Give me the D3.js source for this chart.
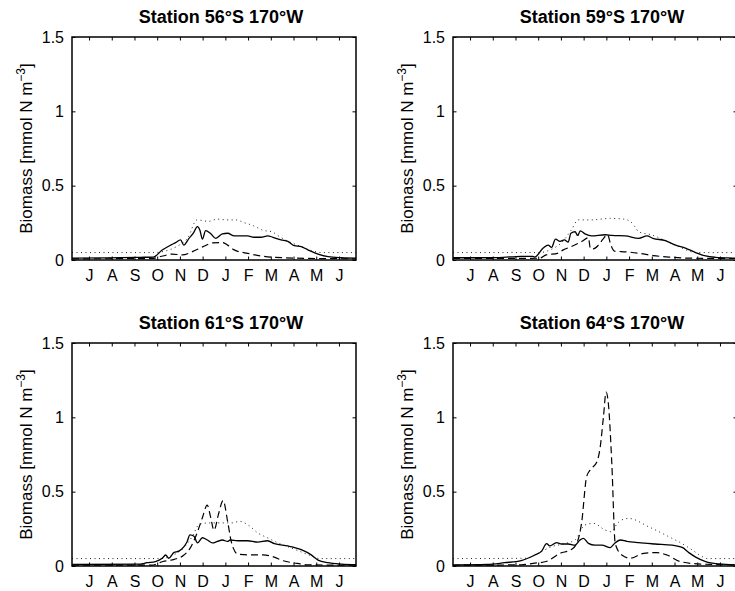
<!DOCTYPE html>
<html>
<head>
<meta charset="utf-8">
<script src="https://cdn.jsdelivr.net/npm/d3@7"></script>
<style>
body { margin: 0; background: #fff; }
svg { display: block; font-family: 'Liberation Sans', Arial, Helvetica, sans-serif; }
</style>
</head>
<body>
<div id="chart"></div>
<script>
// x values are months counted from 1 July, y values are biomass
const stations = ['56', '59', '61', '64'];
const monthLabels = ['J', 'A', 'S', 'O', 'N', 'D', 'J', 'F', 'M', 'A', 'M', 'J'];
const monthTicks = [0.75, 1.75, 2.75, 3.75, 4.75, 5.75, 6.75, 7.75, 8.75, 9.75, 10.75, 11.75];
const yTicks = [0, 0.5, 1, 1.5];

// Station 56S
const solid56 = [[0,0.013],[1.5,0.014],[3.0,0.018],[3.58,0.02],[3.97,0.067],[4.34,0.10],[4.56,0.117],[4.78,0.135],[4.92,0.10],[5.15,0.146],[5.34,0.18],[5.52,0.225],[5.63,0.2],[5.74,0.14],[5.88,0.198],[6.11,0.176],[6.33,0.146],[6.62,0.176],[6.85,0.18],[7.14,0.162],[7.73,0.162],[8.01,0.153],[8.32,0.153],[8.61,0.162],[8.84,0.153],[9.2,0.135],[9.5,0.125],[9.78,0.097],[10.09,0.09],[10.38,0.068],[10.83,0.04],[11.27,0.022],[11.86,0.015],[12.5,0.012]];
const dashed56 = [[0,0.008],[3.5,0.01],[4.0,0.027],[4.4,0.04],[4.85,0.034],[5.3,0.056],[5.75,0.088],[6.2,0.115],[6.62,0.117],[6.85,0.1],[7.14,0.068],[7.73,0.045],[8.32,0.027],[8.9,0.018],[10.4,0.011],[12.5,0.008]];
const dotted56 = [[0,0.05],[3.6,0.05],[4.1,0.06],[4.6,0.09],[5.1,0.15],[5.5,0.27],[6.0,0.26],[6.4,0.275],[6.8,0.27],[7.2,0.27],[7.6,0.25],[8.0,0.23],[8.4,0.2],[8.8,0.19],[9.1,0.16],[9.6,0.12],[10.1,0.09],[10.6,0.06],[11.0,0.05],[12.5,0.05]];

// Station 59S
const solid59 = [[0,0.015],[2.0,0.016],[3.0,0.025],[3.5,0.025],[3.6,0.02],[3.97,0.08],[4.19,0.1],[4.34,0.085],[4.51,0.14],[4.71,0.125],[4.9,0.135],[5.07,0.12],[5.19,0.18],[5.37,0.19],[5.49,0.165],[5.6,0.196],[5.81,0.176],[6.1,0.162],[6.7,0.17],[7.0,0.165],[7.58,0.162],[8.17,0.146],[8.54,0.162],[8.8,0.146],[9.35,0.13],[9.8,0.1],[10.23,0.08],[10.68,0.05],[11.12,0.027],[11.56,0.018],[12.3,0.013],[12.5,0.012]];
const dashed59 = [[0,0.01],[3.8,0.012],[4.1,0.034],[4.6,0.045],[4.85,0.068],[5.2,0.09],[5.66,0.124],[5.96,0.15],[6.05,0.075],[6.18,0.075],[6.4,0.1],[6.6,0.14],[6.8,0.17],[6.95,0.1],[7.1,0.06],[7.6,0.055],[8.2,0.045],[8.8,0.03],[9.5,0.02],[10.5,0.012],[12.5,0.01]];
const dotted59 = [[0,0.05],[3.8,0.05],[4.3,0.07],[4.8,0.12],[5.2,0.2],[5.52,0.27],[6.18,0.27],[6.5,0.275],[6.92,0.28],[7.51,0.275],[7.8,0.26],[8.0,0.225],[8.17,0.19],[8.76,0.168],[9.35,0.13],[9.94,0.09],[10.68,0.05],[12.5,0.05]];

// Station 61S
const solid61 = [[0,0.01],[3.0,0.012],[3.3,0.022],[3.67,0.03],[3.97,0.052],[4.12,0.074],[4.26,0.052],[4.48,0.09],[4.7,0.1],[4.93,0.13],[5.07,0.165],[5.19,0.21],[5.37,0.2],[5.52,0.155],[5.74,0.19],[5.96,0.175],[6.18,0.155],[6.4,0.165],[6.62,0.175],[6.85,0.165],[6.96,0.175],[7.29,0.17],[7.73,0.17],[8.17,0.16],[8.61,0.17],[8.91,0.15],[9.5,0.135],[10.09,0.11],[10.53,0.075],[10.83,0.04],[11.27,0.022],[11.86,0.013],[12.5,0.009]];
const dashed61 = [[0,0.005],[3.5,0.006],[4.0,0.03],[4.5,0.045],[4.9,0.07],[5.2,0.12],[5.5,0.22],[5.75,0.33],[5.95,0.41],[6.1,0.33],[6.25,0.24],[6.45,0.35],[6.65,0.44],[6.85,0.3],[7.0,0.17],[7.1,0.12],[7.3,0.08],[7.8,0.075],[8.4,0.075],[8.9,0.06],[9.3,0.035],[9.8,0.02],[10.4,0.008],[12.5,0.005]];
const dotted61 = [[0,0.05],[3.9,0.05],[4.4,0.07],[4.9,0.12],[5.3,0.2],[5.6,0.28],[6.0,0.29],[6.5,0.29],[7.0,0.29],[7.4,0.3],[7.8,0.27],[8.2,0.22],[8.6,0.19],[9.0,0.16],[9.5,0.13],[10.0,0.1],[10.5,0.07],[10.9,0.05],[12.5,0.05]];

// Station 64S
const solid64 = [[0,0.007],[1.5,0.01],[2.27,0.022],[3.0,0.036],[3.6,0.074],[3.9,0.1],[4.12,0.15],[4.26,0.135],[4.56,0.157],[4.78,0.148],[5.07,0.148],[5.37,0.14],[5.59,0.175],[5.74,0.186],[5.96,0.152],[6.25,0.14],[6.55,0.14],[6.92,0.123],[7.1,0.15],[7.36,0.175],[7.65,0.166],[8.17,0.157],[8.9,0.148],[9.65,0.14],[10.09,0.125],[10.38,0.09],[10.68,0.06],[11.12,0.03],[11.7,0.014],[12.5,0.007]];
const dashed64 = [[0,0.005],[3.0,0.008],[3.53,0.018],[4.1,0.03],[4.7,0.085],[5.2,0.11],[5.44,0.15],[5.66,0.29],[5.88,0.6],[6.03,0.645],[6.33,0.7],[6.47,0.79],[6.62,1.0],[6.74,1.17],[6.84,1.09],[6.99,0.69],[7.14,0.15],[7.43,0.074],[7.8,0.052],[8.39,0.085],[8.98,0.09],[9.42,0.074],[10.0,0.03],[10.9,0.013],[12.5,0.008]];
const dotted64 = [[0,0.05],[3.23,0.052],[3.8,0.09],[4.34,0.13],[4.9,0.15],[5.37,0.175],[5.81,0.276],[6.18,0.287],[6.7,0.242],[6.99,0.23],[7.2,0.28],[7.43,0.31],[7.73,0.32],[8.61,0.264],[9.5,0.197],[9.94,0.163],[10.53,0.108],[10.97,0.063],[11.2,0.05],[12.5,0.05]];

const solidSeries = [solid56, solid59, solid61, solid64];
const dashedSeries = [dashed56, dashed59, dashed61, dashed64];
const dottedSeries = [dotted56, dotted59, dotted61, dotted64];

const width = 735;
const height = 591;
const panelW = 284;
const panelH = 223;
const panelPos = [{left: 72, top: 37}, {left: 453, top: 37}, {left: 72, top: 343}, {left: 453, top: 343}];

const svg = d3.select('#chart')
    .append('svg')
        .attr('width', width)
        .attr('height', height);

svg.append('rect')
    .attr('width', width)
    .attr('height', height)
    .attr('fill', '#fff');

const xScale = d3.scaleLinear().domain([0, 12.5]).range([0, panelW]);
const yScale = d3.scaleLinear().domain([0, 1.5]).range([panelH, 0]);

const line = d3.line()
    .x(d => xScale(d[0]))
    .y(d => yScale(d[1]))
    .curve(d3.curveMonotoneX);

stations.forEach((st, i) => {
    const g = svg.append('g')
        .attr('transform', `translate(${panelPos[i].left},${panelPos[i].top})`);

    // data lines
    g.append('path')
        .attr('d', line(dottedSeries[i]))
        .attr('fill', 'none')
        .attr('stroke', '#222')
        .attr('stroke-width', 1)
        .attr('stroke-dasharray', '1,3.5');
    g.append('path')
        .attr('d', line(dashedSeries[i]))
        .attr('fill', 'none')
        .attr('stroke', '#000')
        .attr('stroke-width', 1.2)
        .attr('stroke-dasharray', '7,4');
    g.append('path')
        .attr('d', line(solidSeries[i]))
        .attr('fill', 'none')
        .attr('stroke', '#000')
        .attr('stroke-width', 1.3);

    // axes, ticks pointing inwards on all four sides
    const xb = g.append('g')
        .attr('transform', `translate(0,${panelH})`)
        .call(d3.axisBottom(xScale).tickValues(monthTicks)
            .tickFormat((d, j) => monthLabels[j])
            .tickSize(-3.5).tickSizeOuter(0).tickPadding(9.5));
    g.append('g')
        .call(d3.axisTop(xScale).tickValues(monthTicks)
            .tickFormat('').tickSize(-3.5).tickSizeOuter(0));
    const yl = g.append('g')
        .call(d3.axisLeft(yScale).tickValues(yTicks)
            .tickFormat(d3.format('')).tickSize(-3.5).tickSizeOuter(0).tickPadding(8));
    g.append('g')
        .attr('transform', `translate(${panelW},0)`)
        .call(d3.axisRight(yScale).tickValues(yTicks)
            .tickFormat('').tickSize(-3.5).tickSizeOuter(0));

    g.selectAll('.domain').remove();
    g.selectAll('.tick line').attr('stroke', '#000').attr('stroke-width', 1);
    g.selectAll('.tick text')
        .attr('fill', '#000')
        .style('font-size', '16px')
        .style('font-family', "'Liberation Sans', Arial, Helvetica, sans-serif");

    g.append('rect')
        .attr('width', panelW)
        .attr('height', panelH)
        .attr('fill', 'none')
        .attr('stroke', '#000')
        .attr('stroke-width', 1.5);

    // title
    g.append('text')
        .attr('x', panelW / 2 + 7)
        .attr('y', -14)
        .attr('text-anchor', 'middle')
        .style('font-size', '18px')
        .style('font-weight', 'bold')
        .text(`Station ${st}\u00b0S 170\u00b0W`);

    // y label
    const lab = g.append('text')
        .attr('transform', `translate(-40,${panelH / 2}) rotate(-90)`)
        .attr('text-anchor', 'middle')
        .style('font-size', '17px');
    lab.append('tspan').text('Biomass [mmol N m');
    lab.append('tspan').attr('dy', -7).style('font-size', '12px').text('\u22123');
    lab.append('tspan').attr('dy', 7).text(']');
});
</script>
</body>
</html>
